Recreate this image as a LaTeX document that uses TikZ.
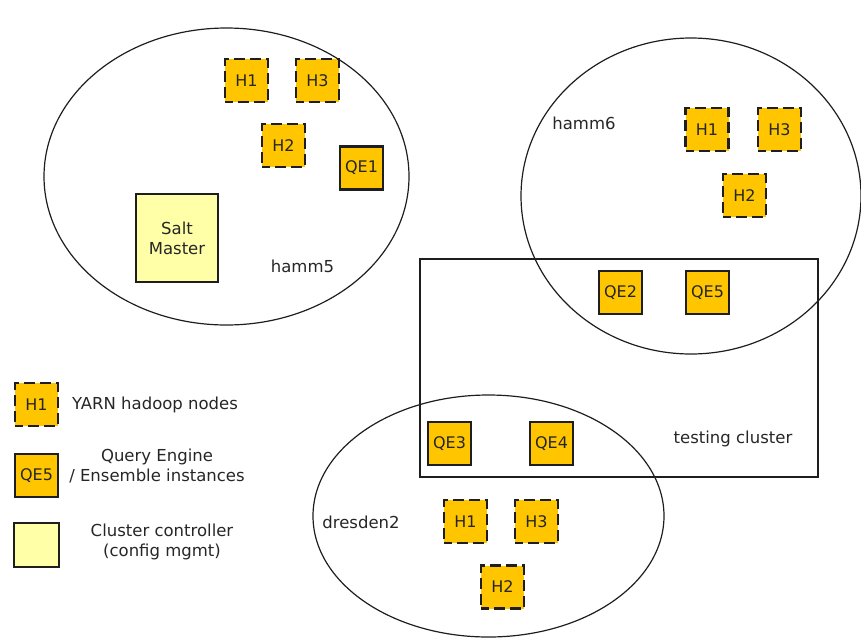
\documentclass[tikz,border=0pt]{standalone}
\usepackage{fontspec}
\setmainfont{DejaVu Sans}
\usetikzlibrary{shapes.geometric}
\definecolor{gold}{RGB}{255,198,0}
\definecolor{paleyel}{RGB}{255,255,168}
\definecolor{edge}{RGB}{30,30,30}
\tikzset{
  hbox/.style={draw=edge, line width=2.6pt, dash pattern=on 11pt off 5pt, dash phase=3pt, fill=gold, minimum width=43pt, minimum height=43pt, inner sep=0pt, font=\fontsize{16}{19}\selectfont, text=black!85},
  qbox/.style={draw=edge, line width=2.6pt, fill=gold, minimum width=43pt, minimum height=43pt, inner sep=0pt, font=\fontsize{16}{19}\selectfont, text=black!85},
  cloud/.style={draw=edge, line width=1.2pt, ellipse, inner sep=0pt},
  lbl/.style={font=\fontsize{16.5}{20}\selectfont, text=black!85, align=center},
}
\begin{document}
\begin{tikzpicture}[x=1pt,y=-1pt]
\useasboundingbox (0,0) rectangle (861,638);
% clusters
\node[cloud, minimum width=365pt, minimum height=297pt] (hamm5) at (226.5,176.5) {};
\node[cloud, minimum width=340pt, minimum height=316pt] (hamm6) at (691,196) {};
\node[cloud, minimum width=351pt, minimum height=242pt] (dresden2) at (488.5,516) {};
\node[draw=edge, line width=1.2pt, minimum width=398pt, minimum height=218pt, inner sep=0pt] (testing) at (619,368) {};
% labels
\node[lbl] (l5) at (302.5,266) {hamm5};
\node[lbl] (l6) at (584,123) {hamm6};
\node[lbl] (lt) at (733,439) {testing cluster};
\node[lbl] (ld) at (361,522) {dresden2};
% hamm5
\node[hbox] (a1) at (246.5,80.5) {H1};
\node[hbox] (a3) at (317.5,80.5) {H3};
\node[hbox] (a2) at (283.5,145.5) {H2};
\node[qbox] (qe1) at (361.5,168) {QE1};
\node[draw=edge, line width=1.2pt, fill=paleyel, minimum width=82pt, minimum height=88pt, inner sep=0pt, lbl] (salt) at (177,238) {Salt\\Master};
% hamm6
\node[hbox] (b1) at (707,129.5) {H1};
\node[hbox] (b3) at (779.5,129.5) {H3};
\node[hbox] (b2) at (744.5,195.5) {H2};
\node[qbox] (qe2) at (620.5,292.5) {QE2};
\node[qbox] (qe5) at (707.5,292.5) {QE5};
% dresden2
\node[qbox] (qe3) at (449.5,443.5) {QE3};
\node[qbox] (qe4) at (551.5,443.5) {QE4};
\node[hbox] (c1) at (465.5,521.5) {H1};
\node[hbox] (c3) at (536.5,521.5) {H3};
\node[hbox] (c2) at (502.5,587) {H2};
% legend
\node[hbox] (k1) at (36.5,404.5) {H1};
\node[lbl] (t1) at (155,404.5) {YARN hadoop nodes};
\node[qbox] (k2) at (36.5,475.5) {QE5};
\node[lbl] (t2) at (157,466) {Query Engine\\/ Ensemble instances};
\node[draw=edge, line width=1.2pt, fill=paleyel, minimum width=45pt, minimum height=44pt, inner sep=0pt] (k3) at (36.5,545) {};
\node[lbl] (t3) at (162,542) {Cluster controller\\(config mgmt)};
\end{tikzpicture}
\end{document}
